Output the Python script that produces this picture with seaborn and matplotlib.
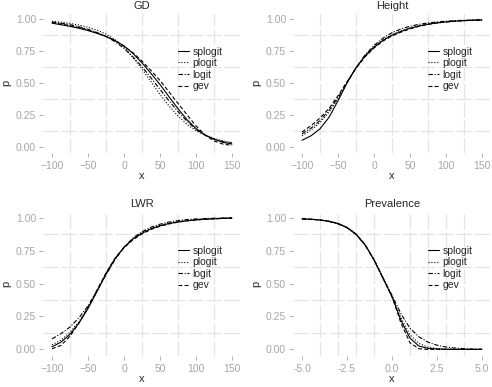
import numpy as np
import pandas as pd
import matplotlib
matplotlib.use("Agg")
import matplotlib.pyplot as plt
from matplotlib.ticker import MultipleLocator
import seaborn as sns

models = ['splogit', 'plogit', 'logit', 'gev']

# x grid for the three "size" panels (-100..150, step 12.5)
x_size = [-100, -87.5, -75, -62.5, -50, -37.5, -25, -12.5, 0, 12.5, 25,
          37.5, 50, 62.5, 75, 87.5, 100, 112.5, 125, 137.5, 150]
# x grid for Prevalence (-5..5, step 0.5)
x_prev = [-5, -4.5, -4, -3.5, -3, -2.5, -2, -1.5, -1, -0.5, 0,
          0.5, 1, 1.5, 2, 2.5, 3, 3.5, 4, 4.5, 5]

gd_splogit = [0.970, 0.958, 0.945, 0.930, 0.912, 0.890, 0.866, 0.834, 0.792, 0.732, 0.658,
              0.575, 0.488, 0.392, 0.298, 0.212, 0.142, 0.092, 0.058, 0.034, 0.020]
gd_plogit = [0.985, 0.978, 0.968, 0.955, 0.938, 0.915, 0.885, 0.840, 0.780, 0.700, 0.610,
             0.510, 0.410, 0.320, 0.240, 0.175, 0.125, 0.090, 0.065, 0.045, 0.032]
gd_logit = [0.980, 0.970, 0.958, 0.942, 0.922, 0.897, 0.866, 0.825, 0.772, 0.705, 0.628,
            0.540, 0.450, 0.360, 0.275, 0.200, 0.135, 0.090, 0.060, 0.040, 0.027]
gd_gev = [0.975, 0.963, 0.950, 0.935, 0.917, 0.894, 0.866, 0.832, 0.790, 0.737, 0.672,
          0.598, 0.520, 0.430, 0.340, 0.250, 0.163, 0.092, 0.045, 0.020, 0.010]

height_splogit = [0.050, 0.085, 0.140, 0.230, 0.360, 0.500, 0.620, 0.710, 0.780, 0.835, 0.875,
                  0.905, 0.930, 0.948, 0.962, 0.972, 0.980, 0.986, 0.990, 0.993, 0.995]
height_plogit = [0.085, 0.130, 0.190, 0.270, 0.375, 0.500, 0.620, 0.715, 0.785, 0.840, 0.880,
                 0.910, 0.933, 0.950, 0.963, 0.973, 0.980, 0.986, 0.990, 0.993, 0.995]
height_logit = [0.100, 0.145, 0.205, 0.285, 0.385, 0.505, 0.620, 0.720, 0.795, 0.853, 0.895,
                0.925, 0.946, 0.961, 0.972, 0.980, 0.986, 0.990, 0.993, 0.995, 0.997]
height_gev = [0.115, 0.165, 0.225, 0.300, 0.400, 0.510, 0.615, 0.705, 0.775, 0.830, 0.870,
              0.900, 0.925, 0.945, 0.960, 0.972, 0.980, 0.986, 0.990, 0.993, 0.995]

lwr_splogit = [0.020, 0.055, 0.115, 0.200, 0.310, 0.440, 0.575, 0.690, 0.775, 0.838, 0.882,
               0.915, 0.938, 0.955, 0.967, 0.976, 0.983, 0.988, 0.991, 0.994, 0.996]
lwr_plogit = [0.035, 0.070, 0.130, 0.210, 0.315, 0.440, 0.570, 0.685, 0.775, 0.840, 0.885,
              0.918, 0.940, 0.957, 0.968, 0.977, 0.984, 0.988, 0.992, 0.994, 0.996]
lwr_logit = [0.080, 0.120, 0.170, 0.240, 0.330, 0.445, 0.565, 0.680, 0.775, 0.845, 0.893,
             0.927, 0.950, 0.966, 0.977, 0.985, 0.990, 0.993, 0.995, 0.997, 0.998]
lwr_gev = [0.005, 0.030, 0.100, 0.200, 0.320, 0.450, 0.580, 0.690, 0.770, 0.832, 0.876,
           0.910, 0.934, 0.952, 0.965, 0.975, 0.982, 0.987, 0.991, 0.994, 0.996]

prev_splogit = [0.990, 0.987, 0.982, 0.972, 0.955, 0.925, 0.875, 0.795, 0.680, 0.540, 0.400,
                0.220, 0.085, 0.025, 0.008, 0.003, 0.001, 0.0, 0.0, 0.0, 0.0]
prev_plogit = [0.990, 0.987, 0.982, 0.972, 0.955, 0.925, 0.875, 0.795, 0.680, 0.540, 0.400,
               0.240, 0.110, 0.045, 0.018, 0.007, 0.003, 0.001, 0.0, 0.0, 0.0]
prev_logit = [0.992, 0.988, 0.981, 0.970, 0.952, 0.922, 0.872, 0.792, 0.680, 0.545, 0.410,
              0.270, 0.160, 0.095, 0.055, 0.032, 0.018, 0.010, 0.006, 0.003, 0.002]
prev_gev = [0.990, 0.987, 0.982, 0.972, 0.955, 0.925, 0.875, 0.795, 0.680, 0.540, 0.400,
            0.200, 0.050, 0.005, 0.0, 0.0, 0.0, 0.0, 0.0, 0.0, 0.0]

panels = [
    ('GD', x_size, [gd_splogit, gd_plogit, gd_logit, gd_gev]),
    ('Height', x_size, [height_splogit, height_plogit, height_logit, height_gev]),
    ('LWR', x_size, [lwr_splogit, lwr_plogit, lwr_logit, lwr_gev]),
    ('Prevalence', x_prev, [prev_splogit, prev_plogit, prev_logit, prev_gev]),
]

sns.set_style('white')
plt.rcParams['font.family'] = ['Liberation Sans', 'DejaVu Sans']

W, H = 492, 387
fig = plt.figure(figsize=(W / 100, H / 100), dpi=100)

# panel boxes in pixels: left, top, right, bottom
boxes = [(43, 13, 241, 153), (293, 13, 491, 153),
         (43, 211, 241, 356), (293, 211, 491, 356)]

dash_map = {'splogit': '', 'plogit': (1, 1.6), 'logit': (4, 1.5, 1, 1.5), 'gev': (3.5, 2)}
grey = '#a6a6a6'

for (title, xs, series), (l, t, r, b) in zip(panels, boxes):
    ax = fig.add_axes([l / W, 1 - b / H, (r - l) / W, (b - t) / H])
    df = pd.DataFrame({
        'x': np.tile(xs, len(models)),
        'p': np.concatenate(series),
        'model': np.repeat(models, len(xs)),
    })
    sns.lineplot(data=df, x='x', y='p', style='model', style_order=models,
                 dashes=dash_map, color='black', linewidth=0.8,
                 estimator=None, sort=False, ax=ax)

    xmin, xmax = xs[0], xs[-1]
    span = xmax - xmin
    ax.set_xlim(xmin - 0.05 * span, xmax + 0.05 * span)
    ax.set_ylim(-0.05, 1.05)
    step = span / 5
    ax.xaxis.set_major_locator(MultipleLocator(step))
    ax.xaxis.set_minor_locator(MultipleLocator(step / 2))
    ax.yaxis.set_major_locator(MultipleLocator(0.25))
    ax.yaxis.set_minor_locator(MultipleLocator(0.125))
    if title == 'Prevalence':
        ax.set_xticks([-5, -2.5, 0, 2.5, 5])
        ax.set_xticklabels(['-5.0', '-2.5', '0.0', '2.5', '5.0'])
    ax.set_yticks([0, 0.25, 0.5, 0.75, 1.0])
    ax.set_yticklabels(['0.00', '0.25', '0.50', '0.75', '1.00'])

    ax.grid(False, which='major')
    ax.grid(True, which='minor', color='#e4e4e4', linewidth=0.9, linestyle=(0, (12, 2.5)))
    ax.set_axisbelow(True)
    for s in ax.spines.values():
        s.set_visible(False)
    ax.tick_params(which='major', direction='out', length=3, width=0.6, color=grey,
                   labelcolor=grey, labelsize=7.5, pad=2, left=True, bottom=True)
    ax.tick_params(axis='x', which='major', pad=3)
    ax.tick_params(which='minor', length=0)

    ax.set_title(title, fontsize=8, pad=3)
    ax.set_xlabel('x', fontsize=8, labelpad=0)
    ax.set_ylabel('p', fontsize=8, labelpad=3)

    sns.move_legend(ax, 'upper left', bbox_to_anchor=(0.66, 0.79), frameon=False,
                    title=None, fontsize=7.5, handlelength=1.1, handletextpad=0.3,
                    labelspacing=0.15, borderaxespad=0)

fig.savefig('out.png', dpi=100)
